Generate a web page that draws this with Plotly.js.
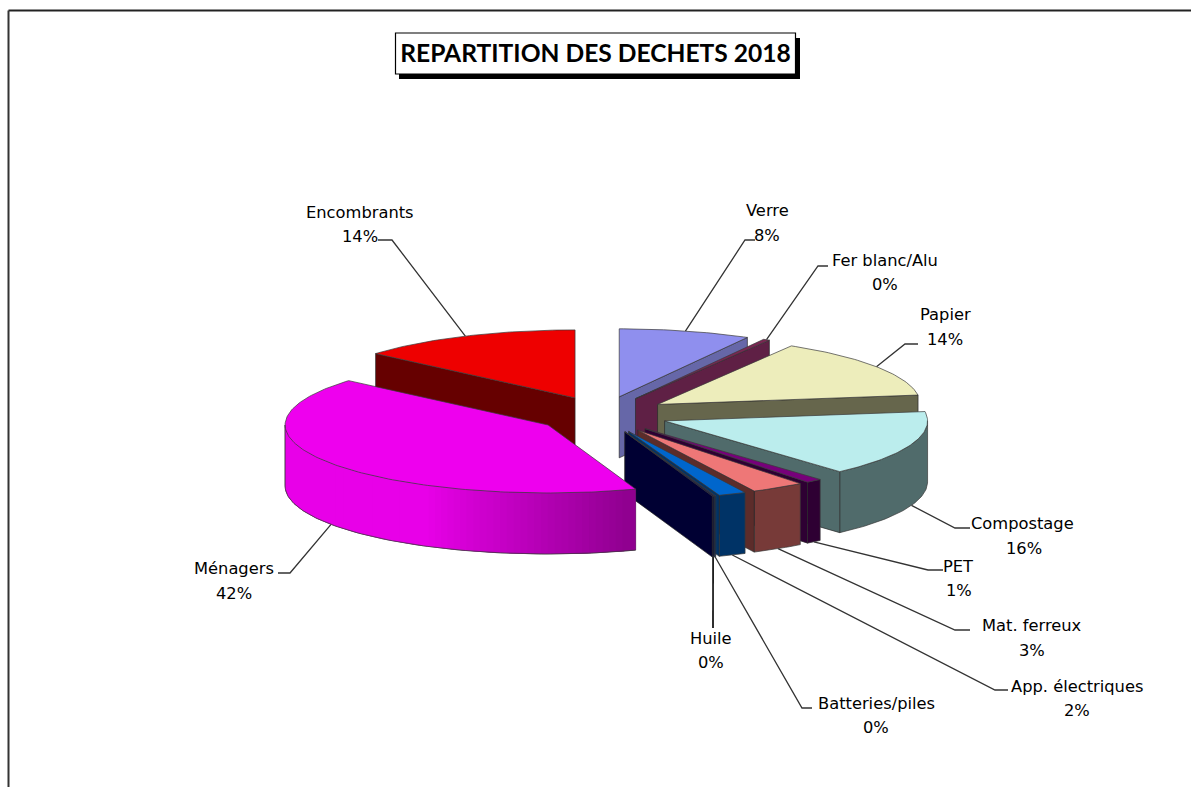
<!DOCTYPE html>
<html>
<head>
<meta charset="utf-8">
<script src="https://cdn.plot.ly/plotly-3.0.1.min.js"></script>
<style>html,body{margin:0;padding:0;background:#fff}#chart{width:1191px;height:787px}</style>
</head>
<body>
<div id="chart"></div>
<script>
// ---- data, clockwise from 12 o'clock ----
var categories = ["Verre","Fer blanc/Alu","Papier","Compostage","PET","Mat. ferreux","App. électriques","Batteries/piles","Huile","Ménagers","Encombrants"];
var values = [8.1,0.4,14.3,15.6,1.0,3.3,1.7,0.1,0.1,41.7,13.7];
// ---- colours ----
var topColors  = ["#8F8FEE","#7A2652","#EDEDBB","#BBEDED","#77007A","#EE7777","#0066CC","#0B2A66","#0B0B4A","#EE00EE","#EE0000"];
var wallColors = ["#6667A8","#5F2045","#66664C","#506B6B","#2E0033","#5C2C2A","#003366","#001F55","#000033","#990099","#660000"];
var rimStart   = ["#6667A8","#5F2045","#66664C","#506B6B","#2E0033","#773A38","#003366","#001F55","#000033","#8F008F","#660000"];
var rimEnd     = ["#6667A8","#5F2045","#66664C","#506B6B","#2E0033","#773A38","#003366","#001F55","#000033","#E800E8","#660000"];
// ---- label placement (pixels of the frame) ----
var nameX = [767,885,945,1022,958,1032,1077,876,711,234,360];
var nameY = [210,260,314,523,566,625,686,703,638,568,212];
var pctX  = [767,885,945,1024,959,1032,1077,876,711,234,360];
var pctY  = [235,284,339,548,590,650,710,727,662,593,236];
var elbowX = [[745,755],[818,828],[905,918],[955,970],[928,943],[955,970],[995,1008],[802,812],[713],[290,278],[392,378]];
var elbowY = [[240,240],[266,266],[344,344],[528,528],[570,570],[630,630],[690,690],[708,708],[628],[573,573],[240,240]];
var paintOrder = [10,0,1,2,3,4,5,6,7,8,9];
// ---- projection parameters ----
var W = 1191, H = 787;
var CX = 602.6, CY = 414.6, RX = 263, RY = 68, DEPTH = 61 / 68;
var PULL_X = 0.251, PULL_Y = 0.27;
var SHADE_SPAN = 0.42;
var FONT = '"DejaVu Sans", sans-serif';

function px2x(p){ return (p - CX) / RX; }
function px2y(p){ return (CY - p) / RY; }
function rad(d){ return d * Math.PI / 180; }
function hex(c){ return [parseInt(c.substr(1,2),16),parseInt(c.substr(3,2),16),parseInt(c.substr(5,2),16)]; }
function mix(a,b,t){ var A=hex(a),B=hex(b); return "rgb("+[0,1,2].map(function(i){return Math.round(A[i]+(B[i]-A[i])*t);}).join(",")+")"; }

var total = values.reduce(function(s,v){return s+v;},0);
var angles = [], acc = 0;
values.forEach(function(v){ var a0 = acc/total*360; acc += v; angles.push([a0, acc/total*360]); });

function apex(i){
  var m = rad((angles[i][0]+angles[i][1])/2);
  return [PULL_X*Math.sin(m), PULL_Y*Math.cos(m)];
}
function rimPoint(i,deg,z){
  var c = apex(i), t = rad(deg);
  return [c[0]+Math.sin(t), c[1]+Math.cos(t)-(z||0)];
}
var traces = [];
function poly(xs,ys,fill,line,w){
  traces.push({type:"scatter",mode:"lines",x:xs,y:ys,fill:"toself",fillcolor:fill,
    line:{color:line||fill,width:w===undefined?0.8:w},hoverinfo:"skip",showlegend:false});
}
function sideBand(i,d0,d1,fill,line,w){
  var xs=[],ys=[],n=Math.max(1,Math.ceil(d1-d0)),k,p;
  for(k=0;k<=n;k++){ p=rimPoint(i,d0+(d1-d0)*k/n); xs.push(p[0]); ys.push(p[1]); }
  for(k=n;k>=0;k--){ p=rimPoint(i,d0+(d1-d0)*k/n,DEPTH); xs.push(p[0]); ys.push(p[1]); }
  xs.push(xs[0]); ys.push(ys[0]);
  poly(xs,ys,fill,line,w);
}

// leader lines, behind the slices
categories.forEach(function(name,i){
  var mid = (angles[i][0]+angles[i][1])/2;
  var front = Math.cos(rad(mid)) < 0;
  var p = rimPoint(i,mid,front?DEPTH:0);
  var xs = [p[0]], ys = [p[1]];
  elbowX[i].forEach(function(e,k){ xs.push(px2x(e)); ys.push(px2y(elbowY[i][k])); });
  traces.push({type:"scatter",mode:"lines",x:xs,y:ys,line:{color:i===8?"#000000":"#333333",width:i===8?1.6:1.3},hoverinfo:"skip",showlegend:false});
});

// slices, painted back to front
paintOrder.forEach(function(i){
  var a0 = angles[i][0], a1 = angles[i][1], c = apex(i);
  var f0 = Math.max(a0,90), f1 = Math.min(a1,270);
  if (f1 > f0) {
    sideBand(i,f0,f1,rimStart[i],"#3a3a3a",0.7);
    if (rimStart[i] !== rimEnd[i]) {
      // the shaded side: overlapping strips from the end of the slice back to its start
      var strips = Math.ceil((f1-f0)/1.5);
      for (var s=strips-1;s>=0;s--){
        var d0=f0+(f1-f0)*s/strips, d1=f0+(f1-f0)*(s+1)/strips;
        var t=Math.min(1,(s+0.5)/strips/SHADE_SPAN);
        var col=mix(rimStart[i],rimEnd[i],t);
        sideBand(i,d0,s===strips-1?d1:d1+1.5,col,col,0);
      }
      // outline on top of the strips
      var ox=[],oy=[],n=Math.ceil(f1-f0),k,b;
      for(k=0;k<=n;k++){ b=rimPoint(i,f0+(f1-f0)*k/n,DEPTH); ox.push(b[0]); oy.push(b[1]); }
      b=rimPoint(i,f1); ox.push(b[0]); oy.push(b[1]);
      traces.push({type:"scatter",mode:"lines",x:ox,y:oy,line:{color:"#3a3a3a",width:0.7},hoverinfo:"skip",showlegend:false});
    }
  }
  // radial wall that faces the viewer
  var wallDeg = a1 <= 180 ? a1 : (a0 >= 180 ? a0 : null);
  if (wallDeg !== null) {
    var E=rimPoint(i,wallDeg), F=rimPoint(i,wallDeg,DEPTH);
    poly([c[0],E[0],F[0],c[0],c[0]],[c[1],E[1],F[1],c[1]-DEPTH,c[1]],wallColors[i],"#2a2a2a",0.7);
  }
  // top face
  var tx=[c[0]],ty=[c[1]],m=Math.max(2,Math.ceil(a1-a0));
  for (var j=0;j<=m;j++){ var q=rimPoint(i,a0+(a1-a0)*j/m); tx.push(q[0]); ty.push(q[1]); }
  tx.push(c[0]); ty.push(c[1]);
  poly(tx,ty,topColors[i],"#3a3a3a",0.7);
});

// labels
var annotations = [];
categories.forEach(function(name,i){
  var pct = Math.round(values[i]/total*100)+"%";
  [[name,nameX[i],nameY[i]],[pct,pctX[i],pctY[i]]].forEach(function(a){
    annotations.push({text:a[0],x:px2x(a[1]),y:px2y(a[2]),xref:"x",yref:"y",showarrow:false,
      xanchor:"center",yanchor:"middle",font:{family:FONT,size:16.3,color:"#000"}});
  });
});

var layout = {
  width:W,height:H,margin:{l:0,r:0,t:0,b:0},
  paper_bgcolor:"#fff",plot_bgcolor:"#fff",showlegend:false,
  xaxis:{visible:false,range:[px2x(0),px2x(W)],domain:[0,1],fixedrange:true},
  yaxis:{visible:false,range:[px2y(H),px2y(0)],domain:[0,1],fixedrange:true},
  title:{text:"REPARTITION DES DECHETS 2018",x:595.5/W,y:1-53.5/H,xanchor:"center",yanchor:"middle",xref:"paper",yref:"paper",
    font:{family:'Lato, sans-serif',size:24.6,color:"#000",weight:700}},
  annotations:annotations,
  shapes:[
    {type:"line",xref:"paper",yref:"paper",x0:8.5/W,x1:1,y0:1-10.5/H,y1:1-10.5/H,line:{color:"#222",width:2},layer:"below"},
    {type:"line",xref:"paper",yref:"paper",x0:8.5/W,x1:8.5/W,y0:0,y1:1-10.5/H,line:{color:"#333",width:2},layer:"below"},
    {type:"rect",xref:"paper",yref:"paper",x0:399/W,x1:800/W,y0:1-79/H,y1:1-38/H,fillcolor:"#000",line:{width:0},layer:"below"},
    {type:"rect",xref:"paper",yref:"paper",x0:395.5/W,x1:795.5/W,y0:1-74/H,y1:1-33/H,fillcolor:"#fff",line:{color:"#000",width:1.2},layer:"below"}
  ]
};
Plotly.newPlot("chart",traces,layout,{displayModeBar:false,staticPlot:true});
</script>
</body>
</html>
